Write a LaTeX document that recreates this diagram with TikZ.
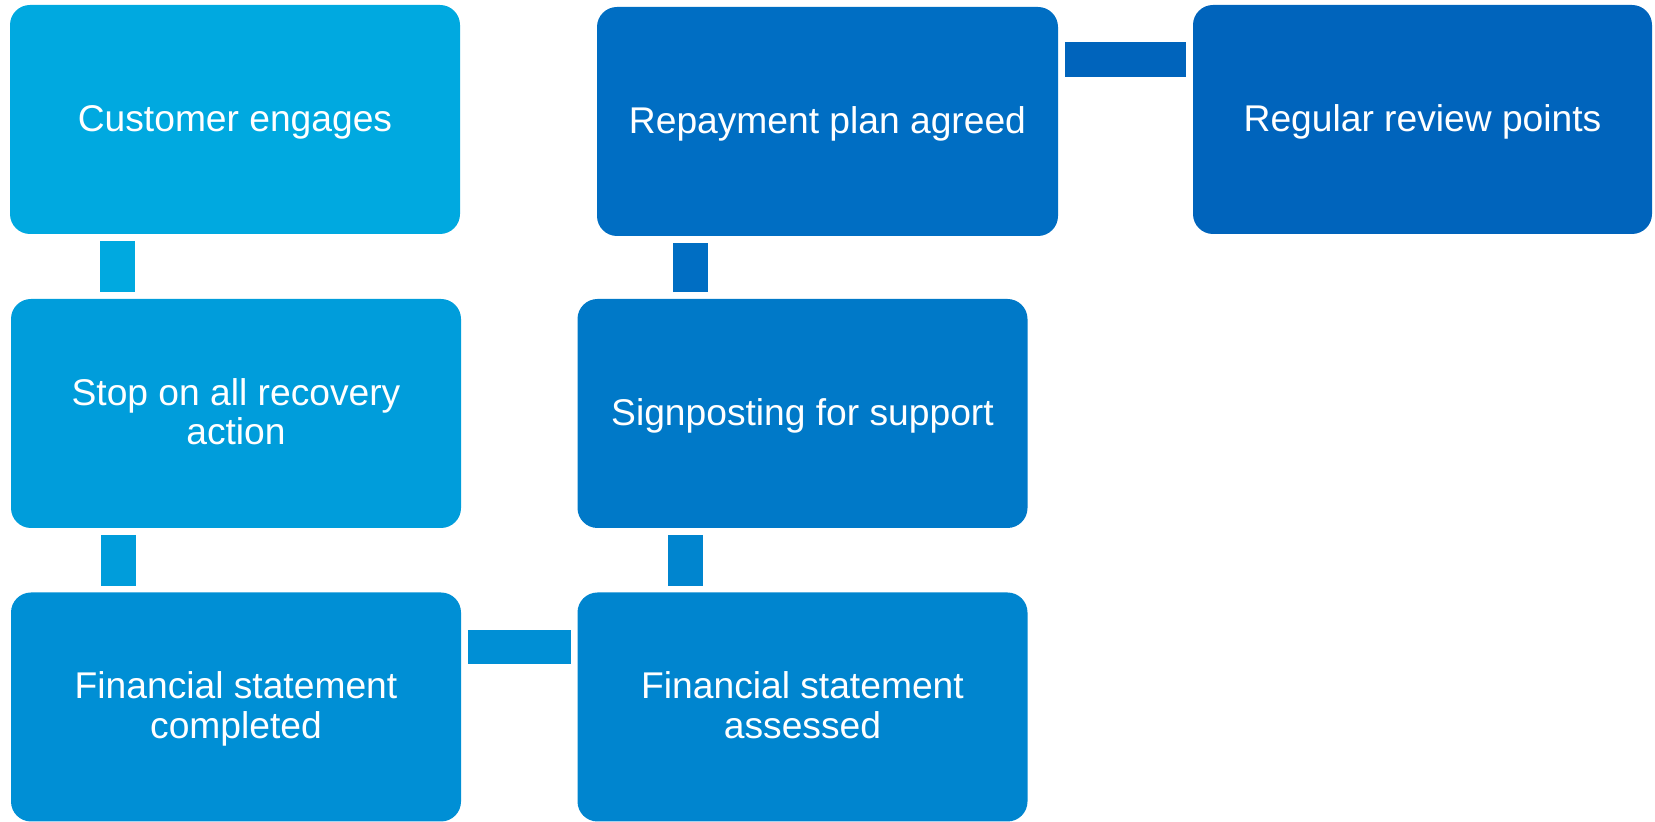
\documentclass[tikz,border=0pt]{standalone}
\usepackage{fontspec}
\setmainfont{Liberation Sans}
\definecolor{cA}{HTML}{00A9E0}
\definecolor{cB}{HTML}{009DDB}
\definecolor{cC}{HTML}{008FD5}
\definecolor{cD}{HTML}{0085CF}
\definecolor{cE}{HTML}{0079C8}
\definecolor{cF}{HTML}{006EC3}
\definecolor{cG}{HTML}{0064BC}
\newcommand\boxtxt[1]{\raisebox{-1.9pt}[\height][\depth]{\begin{tabular}{@{}c@{}}#1\end{tabular}}}
\begin{document}
\begin{tikzpicture}[x=0.5pt,y=-0.5pt,
  stepbox/.style={rectangle, rounded corners=10pt, draw=none, text=white,
    minimum width=225pt, minimum height=114.5pt, inner sep=0pt,
    font=\fontsize{18.6}{19.7}\selectfont},
  conn/.style={line width=17.5pt, shorten <=3.2pt, shorten >=3.2pt}]
\useasboundingbox (0,0) rectangle (1655,822);
\node[stepbox, fill=cA] (cust) at (235,119.5) {\boxtxt{Customer engages}};
\node[stepbox, fill=cB] (stop) at (236,413.5) {\boxtxt{Stop on all recovery\\action}};
\node[stepbox, fill=cC] (fcomp) at (236,707) {\boxtxt{Financial statement\\completed}};
\node[stepbox, fill=cD] (fass) at (802.5,707) {\boxtxt{Financial statement\\assessed}};
\node[stepbox, fill=cE] (sign) at (802.5,413.5) {\boxtxt{Signposting for support}};
\node[stepbox, fill=cF, minimum width=230.5pt] (repay) at (827.5,121.5) {\boxtxt{Repayment plan agreed}};
\node[stepbox, fill=cG, minimum width=229.5pt] (reg) at (1422.5,119.5) {\boxtxt{Regular review points}};
% connectors
\draw[conn, draw=cA] ([xshift=53.75pt]cust.south west) -- ([xshift=53.75pt]cust.south west |- stop.north);
\draw[conn, draw=cB] ([xshift=53.75pt]stop.south west) -- ([xshift=53.75pt]stop.south west |- fcomp.north);
\draw[conn, draw=cC, line width=17pt] ([yshift=-27.5pt]fcomp.north east) -- ([yshift=-27.5pt]fcomp.north east -| fass.west);
\draw[conn, draw=cD] ([xshift=54.25pt]fass.north west) -- ([xshift=54.25pt]fass.north west |- sign.south);
\draw[conn, draw=cF] ([xshift=56.5pt]sign.north west) -- ([xshift=56.5pt]sign.north west |- repay.south);
\draw[conn, draw=cG] ([yshift=-26.5pt]repay.north east) -- ([yshift=-26.5pt]repay.north east -| reg.west);
\end{tikzpicture}
\end{document}
